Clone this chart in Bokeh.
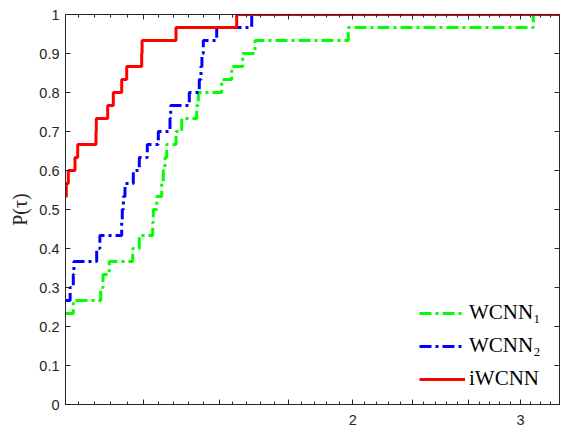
import math
from bokeh.plotting import figure
from bokeh.models import (LogAxis, LinearAxis, FixedTicker, CustomJSTickFormatter,
                          Legend, LegendItem, Range1d)
from bokeh.embed import file_html
from bokeh.resources import INLINE

# ---------------- data ----------------
tau_max = 3.295

wcnn1_tau = [1.0, 1.019, 1.0887, 1.0947, 1.1115, 1.1761, 1.195, 1.2343, 1.2361, 1.2463,
             1.2614, 1.2663, 1.2714, 1.2767, 1.3057, 1.3238, 1.3726, 1.3779, 1.458, 1.4936,
             1.5338, 1.58, 1.979, 3.093]
wcnn1_p = [0.2333, 0.2667, 0.3, 0.3333, 0.3667, 0.4, 0.4333, 0.4667, 0.5, 0.5333,
           0.5667, 0.6, 0.6333, 0.6667, 0.7, 0.7333, 0.7667, 0.8, 0.8333, 0.8667,
           0.9, 0.9333, 0.9667, 1.0]

wcnn2_tau = [1.0, 1.0112, 1.019, 1.0205, 1.0782, 1.0865, 1.1453, 1.1469, 1.150, 1.1544,
             1.1778, 1.195, 1.2183, 1.2511, 1.2869, 1.2891, 1.3483, 1.3812, 1.3869, 1.390,
             1.3946, 1.4405, 1.5675]
wcnn2_p = [0.2667, 0.3, 0.3333, 0.3667, 0.4, 0.4333, 0.4667, 0.5, 0.5333, 0.5667,
           0.6, 0.6333, 0.6667, 0.7, 0.7333, 0.7667, 0.8, 0.8333, 0.8667, 0.9,
           0.9333, 0.9667, 1.0]

iwcnn_tau = [1.0, 1.002, 1.0068, 1.0232, 1.0299, 1.0764, 1.0772, 1.1072, 1.1223, 1.1453,
             1.1592, 1.2019, 1.2030, 1.3057, 1.5117]
iwcnn_p = [0.5333, 0.5667, 0.6, 0.6333, 0.6667, 0.7, 0.7333, 0.7667, 0.8, 0.8333,
           0.8667, 0.9, 0.9333, 0.9667, 1.0]

series_names = ["WCNN\u2081", "WCNN\u2082", "iWCNN"]
x_major_ticks = [0.9916, 1.2066, 1.4485, 1.712, 2.0, 2.312, 2.648, 3.0, 3.38]
x_tick_labels = {2.0: "2", 3.0: "3"}
y_ticks = [0, 0.1, 0.2, 0.3, 0.4, 0.5, 0.6, 0.7, 0.8, 0.9, 1.0]

# minor ticks: 5 geometric sub-intervals between majors
x_minor_ticks = []
for a, b in zip(x_major_ticks[:-1], x_major_ticks[1:]):
    for k in range(1, 5):
        x_minor_ticks.append(a * (b / a) ** (k / 5))

AX = "#262626"

p = figure(frame_width=494, frame_height=390, x_axis_type="log",
           x_range=Range1d(1.0, tau_max), y_range=Range1d(0, 1),
           min_border_left=65, min_border_right=8, min_border_top=14, min_border_bottom=29,
           toolbar_location=None, output_backend="svg")
p.grid.visible = False
p.outline_line_color = AX
p.outline_line_width = 1
p.background_fill_color = "white"
p.border_fill_color = "white"

xfmt = CustomJSTickFormatter(code="""
if (Math.abs(tick-2) < 1e-6) return '2';
if (Math.abs(tick-3) < 1e-6) return '3';
return '';
""")
yfmt = CustomJSTickFormatter(code="return tick.toFixed(1).replace(/\\.0$/, '');")

def style(ax):
    ax.axis_line_color = AX
    ax.axis_line_width = 1
    ax.major_tick_line_color = AX
    ax.minor_tick_line_color = AX
    ax.major_tick_in = 5
    ax.major_tick_out = 0
    ax.minor_tick_in = 3
    ax.minor_tick_out = 0
    ax.major_label_text_color = AX
    ax.major_label_text_font = "Liberation Sans"
    ax.major_label_text_font_size = "14.5px"

xa = p.xaxis[0]
xa.ticker = FixedTicker(ticks=x_major_ticks, minor_ticks=x_minor_ticks)
xa.formatter = xfmt
style(xa)
xa.major_label_standoff = 10

ya = p.yaxis[0]
ya.ticker = FixedTicker(ticks=y_ticks)
ya.formatter = yfmt
style(ya)
ya.major_label_standoff = 6
ya.axis_label = "P(\u03c4)"
ya.axis_label_text_font = "Liberation Serif"
ya.axis_label_text_font_style = "normal"
ya.axis_label_text_font_size = "20px"
ya.axis_label_text_color = AX
ya.axis_label_standoff = 5

top = LogAxis(ticker=FixedTicker(ticks=x_major_ticks, minor_ticks=x_minor_ticks),
              formatter=CustomJSTickFormatter(code="return '';"))
style(top)
top.major_label_text_font_size = "0px"
top.major_label_standoff = 0
p.add_layout(top, "above")

right = LinearAxis(ticker=FixedTicker(ticks=y_ticks),
                   formatter=CustomJSTickFormatter(code="return '';"))
style(right)
right.major_label_text_font_size = "0px"
right.major_label_standoff = 0
p.add_layout(right, "right")

r1 = p.step(wcnn1_tau + [tau_max], wcnn1_p + [1.0], mode="after",
            line_color="#00ff00", line_width=3, line_dash="12 4 3 4")
r2 = p.step(wcnn2_tau + [tau_max], wcnn2_p + [1.0], mode="after",
            line_color="#0000ff", line_width=3, line_dash="12 4 3 4")
r3 = p.step(iwcnn_tau + [tau_max], iwcnn_p + [1.0], mode="after",
            line_color="#ff0000", line_width=3)

legend = Legend(items=[LegendItem(label=series_names[0], renderers=[r1]),
                       LegendItem(label=series_names[1], renderers=[r2]),
                       LegendItem(label=series_names[2], renderers=[r3])],
                location=(354, 13), background_fill_alpha=0, border_line_alpha=0,
                glyph_width=46, glyph_height=20, label_standoff=4, spacing=8,
                padding=0, margin=0, label_text_font="Liberation Serif",
                label_text_font_size="21px", label_text_color="black")
p.add_layout(legend)

open("out.html", "w").write(file_html(p, INLINE))
